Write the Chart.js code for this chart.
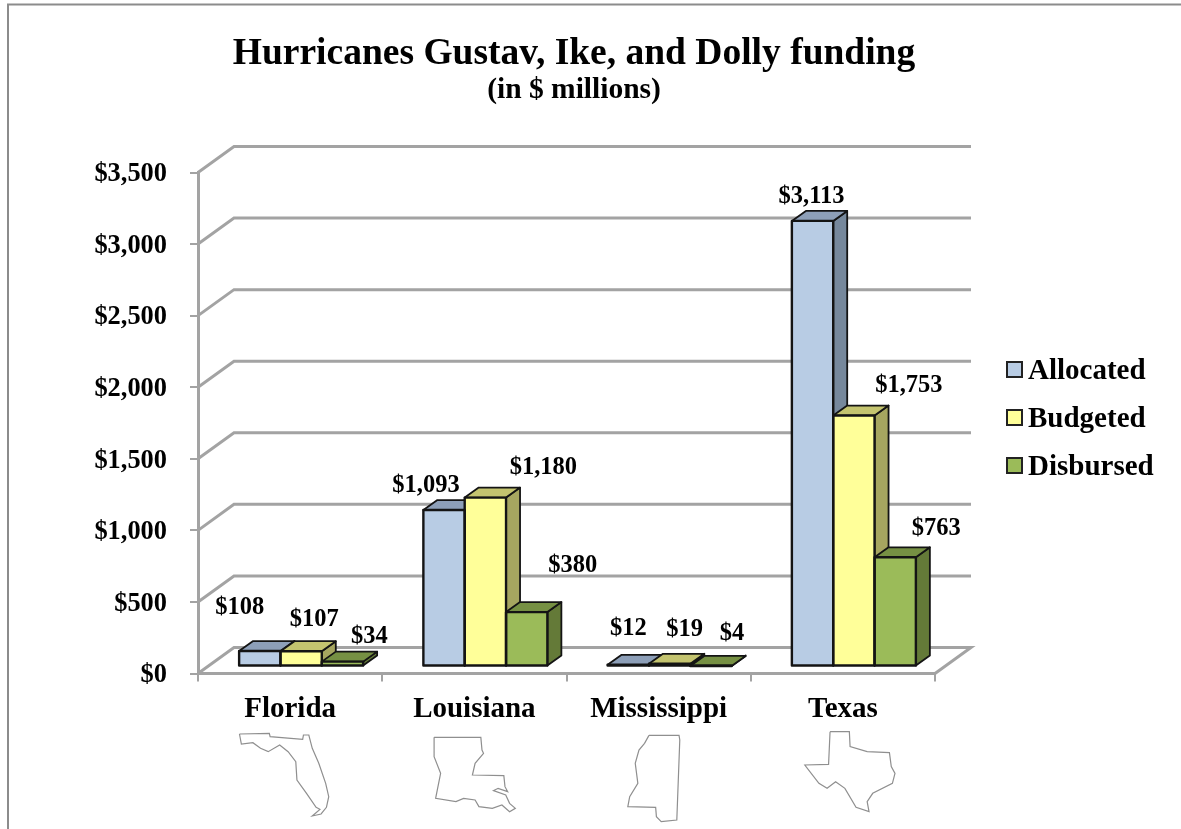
<!DOCTYPE html>
<html lang="en">
<head>
  <meta charset="UTF-8">
  <title>Hurricanes Gustav, Ike, and Dolly funding</title>
  <script src="https://cdn.jsdelivr.net/npm/chart.js"></script>
  <style>
    body { margin: 0; background: #fff; }
    canvas { display: block; }
  </style>
</head>
<body>
  <canvas id="fundingChart" width="1181" height="829"></canvas>

  <script>
    const categories = ['Florida', 'Louisiana', 'Mississippi', 'Texas'];
    const allocated = [108, 1093, 12, 3113];
    const budgeted = [107, 1180, 19, 1753];
    const disbursed = [34, 380, 4, 763];
    const seriesNames = ['Allocated', 'Budgeted', 'Disbursed'];

    const frontColors = ['#b8cce4', '#ffff99', '#9bbb59'];
    const topColors = ['#8d9fb8', '#c4c46f', '#769043'];
    const sideColors = ['#76889c', '#a6a660', '#647a38'];

    const SERIF = '"Liberation Serif", "Times New Roman", serif';
    const GRID = '#a3a3a3';
    const OUTLINE = '#141414';

    // bars stand a little behind the front axis line
    const barShift = { x: 11, y: -7 };
    const barDepth = { x: 14, y: -10 };
    const wallDepth = { x: 36, y: -26 };

    // hand placed data labels, [dx, dy] from the top centre of the bar
    const labelOffsets = [
      [[-20, -44], [-18, -25], [0, -37], [-1, -25]],
      [[13, -33], [58, -31], [15, -35], [55, -31]],
      [[27, -26], [46, -47], [21, -33], [41, -30]]
    ];

    // state outlines under the axis labels, traced from the 2.6-2.7x / 3x crops
    const outlines = [
      { dx: 0, sx: 2.61, pts: [[625,42],[703,40],[705,50],[790,58],[792,45],[806,45],[815,85],[832,130],[850,190],[858,230],[852,262],[838,282],[815,288],[835,268],[825,262],[800,220],[775,180],[772,125],[752,95],[730,75],[700,95],[680,85],[660,68],[630,72],[625,42]] },
      { dx: 0, sx: 2.61, pts: [[1133,52],[1255,52],[1258,90],[1262,100],[1240,130],[1233,165],[1315,167],[1318,200],[1325,215],[1300,205],[1288,212],[1320,225],[1330,250],[1345,265],[1330,275],[1310,255],[1285,265],[1250,260],[1240,240],[1210,235],[1190,245],[1137,235],[1150,160],[1133,110],[1133,52]] },
      { dx: 600, sx: 2.695, pts: [[132,46],[213,46],[215,60],[207,300],[165,305],[152,290],[150,262],[75,260],[80,230],[102,190],[95,130],[105,90],[120,70],[132,46]] },
      { dx: 600, sx: 2.695, pts: [[620,35],[672,35],[674,80],[720,95],[780,98],[785,140],[795,160],[788,190],[735,220],[720,245],[725,275],[690,262],[660,205],[635,185],[612,205],[590,190],[552,135],[616,133],[620,35]] }
    ];

    function money(v) {
      return '$' + v.toLocaleString('en-US');
    }

    function poly(ctx, pts, fill) {
      ctx.beginPath();
      pts.forEach((p, i) => i ? ctx.lineTo(p[0], p[1]) : ctx.moveTo(p[0], p[1]));
      ctx.closePath();
      if (fill) {
        ctx.fillStyle = fill;
        ctx.fill();
      }
      ctx.stroke();
    }

    const chart3d = {
      id: 'chart3d',
      afterLayout(chart) {
        // center title and subtitle on the whole figure, not on the plot
        chart.boxes.forEach(b => {
          if (b.options && b.options.text) {
            b.left = 0;
            b.right = 1148;
          }
        });
      },
      beforeDatasetsDraw(chart) {
        const ctx = chart.ctx;
        const y = chart.scales.y;
        const area = chart.chartArea;

        // frame of the figure
        ctx.save();
        ctx.strokeStyle = '#8c8c8c';
        ctx.lineWidth = 2;
        ctx.beginPath();
        ctx.moveTo(8, 829);
        ctx.lineTo(8, 4.5);
        ctx.lineTo(1181, 4.5);
        ctx.stroke();

        // back wall lines
        ctx.strokeStyle = GRID;
        ctx.lineWidth = 3;
        y.ticks.forEach(t => {
          const py = y.getPixelForValue(t.value);
          ctx.beginPath();
          ctx.moveTo(area.left, py);
          ctx.lineTo(area.left + wallDepth.x, py + wallDepth.y);
          ctx.lineTo(area.right + wallDepth.x, py + wallDepth.y);
          if (t.value === 0) {
            ctx.lineTo(area.right, py);
          }
          ctx.stroke();
        });

        // tops and sides go under all the front faces
        ctx.translate(barShift.x, barShift.y);
        ctx.lineWidth = 1.8;
        ctx.lineJoin = 'round';
        ctx.strokeStyle = OUTLINE;
        categories.forEach((c, k) => {
          chart.data.datasets.forEach((ds, i) => {
            const bar = chart.getDatasetMeta(i).data[k];
            const l = bar.x - bar.width / 2;
            const r = bar.x + bar.width / 2;
            const t = bar.y;
            const b = bar.base;
            const dx = barDepth.x;
            const dy = barDepth.y;
            poly(ctx, [[r, t], [r + dx, t + dy], [r + dx, b + dy], [r, b]], sideColors[i]);
            poly(ctx, [[l, t], [l + dx, t + dy], [r + dx, t + dy], [r, t]], topColors[i]);
          });
        });
        ctx.restore();
      },
      beforeDatasetDraw(chart) {
        chart.ctx.save();
        chart.ctx.translate(barShift.x, barShift.y);
      },
      afterDatasetDraw(chart) {
        chart.ctx.restore();
      },
      afterDatasetsDraw(chart) {
        const ctx = chart.ctx;
        ctx.save();

        // outlines of the front faces
        ctx.save();
        ctx.translate(barShift.x, barShift.y);
        ctx.strokeStyle = OUTLINE;
        ctx.lineWidth = 2.4;
        ctx.lineJoin = 'round';
        chart.data.datasets.forEach((ds, i) => {
          chart.getDatasetMeta(i).data.forEach(bar => {
            ctx.strokeRect(bar.x - bar.width / 2, bar.y, bar.width, bar.base - bar.y);
          });
        });
        ctx.restore();

        // data labels
        ctx.fillStyle = '#000';
        ctx.font = 'bold 24.5px ' + SERIF;
        ctx.textAlign = 'center';
        ctx.textBaseline = 'middle';
        chart.data.datasets.forEach((ds, i) => {
          chart.getDatasetMeta(i).data.forEach((bar, k) => {
            const off = labelOffsets[i][k];
            ctx.fillText(money(ds.data[k]), bar.x + barShift.x + off[0], bar.y + barShift.y + off[1] + 1);
          });
        });

        // legend
        ctx.font = 'bold 29px ' + SERIF;
        ctx.textAlign = 'left';
        seriesNames.forEach((name, i) => {
          const top = 362 + i * 48;
          ctx.fillStyle = frontColors[i];
          ctx.fillRect(1007, top, 15, 15);
          ctx.strokeStyle = '#222';
          ctx.lineWidth = 2;
          ctx.strokeRect(1007, top, 15, 15);
          ctx.fillStyle = '#000';
          ctx.fillText(name, 1028, top + 9.5);
        });

        // state outlines
        ctx.strokeStyle = '#8f8f8f';
        ctx.lineWidth = 1.2;
        outlines.forEach(o => {
          ctx.beginPath();
          o.pts.forEach((p, i) => {
            const px = o.dx + p[0] / o.sx;
            const py = 720 + p[1] / 3;
            i ? ctx.lineTo(px, py) : ctx.moveTo(px, py);
          });
          ctx.stroke();
        });
        ctx.restore();
      }
    };

    const data = {
      labels: categories,
      datasets: [allocated, budgeted, disbursed].map((values, i) => ({
        label: seriesNames[i],
        data: values,
        backgroundColor: frontColors[i],
        borderWidth: 0,
        clip: false,
        categoryPercentage: 0.673,
        barPercentage: 1
      }))
    };

    new Chart(document.getElementById('fundingChart'), {
      type: 'bar',
      data: data,
      plugins: [chart3d],
      options: {
        responsive: false,
        animation: false,
        layout: { padding: { left: 0, right: 246, top: 0, bottom: 0 } },
        plugins: {
          legend: { display: false },
          tooltip: { enabled: false },
          title: {
            display: true,
            text: 'Hurricanes Gustav, Ike, and Dolly funding',
            color: '#000',
            font: { family: SERIF, size: 37.5, weight: 'bold', lineHeight: 1 },
            padding: { top: 35.5, bottom: 0 }
          },
          subtitle: {
            display: true,
            text: '(in $ millions)',
            color: '#000',
            font: { family: SERIF, size: 29.5, weight: 'bold', lineHeight: 1 },
            padding: { top: 2.25, bottom: 67.75 }
          }
        },
        scales: {
          x: {
            afterFit: s => { s.height = 155.5; },
            border: { color: GRID, width: 3 },
            grid: { drawOnChartArea: false, color: GRID, lineWidth: 2, tickLength: 8 },
            ticks: {
              color: '#000',
              padding: 14,
              maxRotation: 0,
              font: { family: SERIF, size: 29, weight: 'bold', lineHeight: 1 }
            }
          },
          y: {
            min: 0,
            max: 3500,
            afterFit: s => { s.width = 198; },
            border: { color: GRID, width: 3 },
            grid: { drawOnChartArea: false, color: GRID, lineWidth: 2, tickLength: 8 },
            ticks: {
              stepSize: 500,
              color: '#000',
              padding: 23,
              labelOffset: 2,
              font: { family: SERIF, size: 26.4, weight: 'bold', lineHeight: 1 },
              callback: v => money(v)
            }
          }
        }
      }
    });
  </script>
</body>
</html>
